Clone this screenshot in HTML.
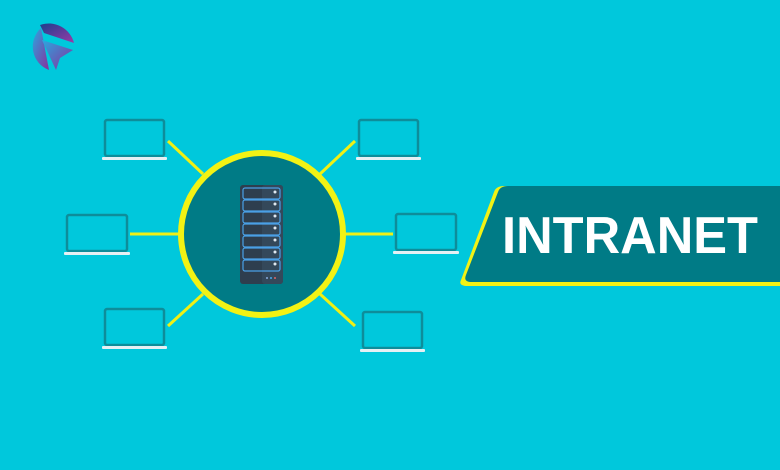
<!DOCTYPE html>
<html><head><meta charset="utf-8"><style>
html,body{margin:0;padding:0;background:#00c8dc;}
svg{display:block}
</style></head><body>
<svg width="780" height="470" viewBox="0 0 780 470" xmlns="http://www.w3.org/2000/svg">
<defs>
<linearGradient id="lg" x1="0" y1="0" x2="1" y2="1">
<stop offset="0" stop-color="#2aa8e0"/><stop offset="1" stop-color="#8a2e9c"/>
</linearGradient>
<linearGradient id="lg2" x1="0" y1="0" x2="1" y2="1">
<stop offset="0" stop-color="#1d3f8c"/><stop offset="1" stop-color="#9a3aa8"/>
</linearGradient>
</defs>
<rect width="780" height="470" fill="#00c8dc"/>
<!-- logo -->
<path d="M41 28 L49 70 A25 25 0 0 1 41 28 Z" fill="url(#lg)"/>
<path d="M42 40 L73 50 L60 58 L56 70 Z" fill="url(#lg)"/>
<path d="M40 25 A26 26 0 0 1 74 43 L44 33 Z" fill="url(#lg2)"/>
<!-- connectors -->
<g stroke="#f0f014" stroke-width="3" stroke-linecap="butt">
<line x1="168" y1="141" x2="203" y2="174"/>
<line x1="130" y1="234" x2="180" y2="234"/>
<line x1="168" y1="326" x2="203" y2="294"/>
<line x1="355" y1="141" x2="320" y2="174"/>
<line x1="344" y1="234" x2="393" y2="234"/>
<line x1="355" y1="326" x2="320" y2="294"/>
</g>
<!-- laptops -->
<g fill="none" stroke="#0e8d9a" stroke-width="2.5">
<rect x="105" y="120" width="59" height="36" rx="2"/>
<rect x="67" y="215" width="60" height="36" rx="2"/>
<rect x="105" y="309" width="59" height="36" rx="2"/>
<rect x="359" y="120" width="59" height="36" rx="2"/>
<rect x="396" y="214" width="60" height="36" rx="2"/>
<rect x="363" y="312" width="59" height="36" rx="2"/>
</g>
<g fill="#e6f0f4">
<rect x="102" y="157" width="65" height="3" rx="1"/>
<rect x="64" y="252" width="66" height="3" rx="1"/>
<rect x="102" y="346" width="65" height="3" rx="1"/>
<rect x="356" y="157" width="65" height="3" rx="1"/>
<rect x="393" y="251" width="66" height="3" rx="1"/>
<rect x="360" y="349" width="65" height="3" rx="1"/>
</g>
<!-- center circle -->
<circle cx="262" cy="234" r="81" fill="#007b86" stroke="#f2f214" stroke-width="6"/>
<!-- server -->
<rect x="240" y="185" width="43" height="99" rx="3" fill="#2e3e4e"/>
<rect x="262" y="185" width="21" height="99" rx="3" fill="#34485a"/>
<g fill="none" stroke="#4aa0e6" stroke-width="1.2">
<rect x="243" y="188" width="37" height="11" rx="2"/>
<rect x="243" y="200" width="37" height="11" rx="2"/>
<rect x="243" y="212" width="37" height="11" rx="2"/>
<rect x="243" y="224" width="37" height="11" rx="2"/>
<rect x="243" y="236" width="37" height="11" rx="2"/>
<rect x="243" y="248" width="37" height="11" rx="2"/>
<rect x="243" y="260" width="37" height="11" rx="2"/>
</g>
<g fill="#e0e8f0">
<circle cx="275" cy="192" r="1.5"/><circle cx="275" cy="204" r="1.5"/><circle cx="275" cy="216" r="1.5"/>
<circle cx="275" cy="228" r="1.5"/><circle cx="275" cy="240" r="1.5"/><circle cx="275" cy="252" r="1.5"/>
<circle cx="275" cy="264" r="1.5"/>
</g>
<circle cx="267" cy="278" r="1" fill="#8ad"/><circle cx="271" cy="278" r="1" fill="#4ae"/><circle cx="275" cy="278" r="1" fill="#d66"/>
<!-- banner -->
<path d="M494 192 Q496 186 504 186 L780 186 L780 286 L468 286 Q458 286 461 280 Z" fill="#f2f214"/>
<path d="M498 192 Q500 186 508 186 L780 186 L780 282 L472 282 Q463 282 466 275 Z" fill="#007b86"/>
<text x="502" y="253" font-family="Liberation Sans, sans-serif" font-weight="bold" font-size="52" fill="#ffffff" textLength="256" lengthAdjust="spacingAndGlyphs">INTRANET</text>
</svg>
</body></html>
